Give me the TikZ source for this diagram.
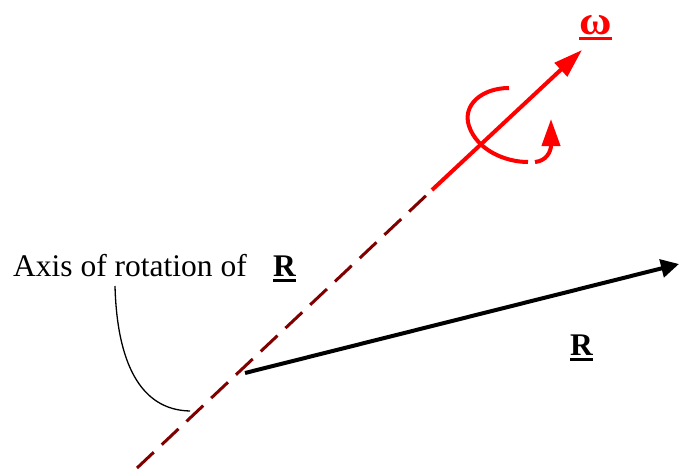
\documentclass[tikz,border=0pt]{standalone}
\usepackage{fontspec}
\usepackage{graphicx}
\setmainfont{Liberation Serif}
\usetikzlibrary{arrows.meta}
\definecolor{axisred}{RGB}{128,0,0}
\newcommand\myul[1]{\setbox0\hbox{#1}\rlap{\rule[-6pt]{\wd0}{3pt}}\box0}
\tikzset{
  lbl/.style={inner sep=0pt, anchor=base west, font=\fontsize{31.5}{36}\selectfont},
  axisline/.style={draw=axisred, line width=3pt, dash pattern=on 23pt off 11pt},
  omegavec/.style={draw=red, line width=4pt, -{Triangle[length=29pt,width=18pt]}},
  rotarrow/.style={draw=red, line width=4pt},
  rvec/.style={draw=black, line width=4pt, -{Triangle[length=18pt,width=18pt]}},
  pointer/.style={draw=black, line width=1.3pt}
}
\begin{document}
\begin{tikzpicture}[x=1pt,y=-1pt]
\useasboundingbox (0,0) rectangle (680,472);
% coordinates
\coordinate (axstart) at (137,468);
\coordinate (axmid) at (432,190);
\coordinate (wtip) at (582,50);
\coordinate (rstart) at (245,373);
\coordinate (rtip) at (679,264);
\coordinate (arcA) at (509,88);
\coordinate (arcB) at (528,162);
\coordinate (arcC) at (535,162);
\coordinate (arcTip) at (551,119);
\coordinate (ptrEnd) at (190,411);
% labels
\node[lbl] (axislbl) at (13,276) {Axis of rotation of};
\node[lbl] (axisR) at (273,276) {\myul{\textbf{R}}};
\node[lbl] (rlbl) at (570,355) {\myul{\textbf{R}}};
\node[lbl, font=\fontsize{37}{40}\selectfont\bfseries] (wlbl) at (579,34) {\color{red}\myul{\scalebox{1.2}[1.1]{ω}}};
% axis
\draw[axisline] (axstart) -- (axmid);
\draw[omegavec] (axmid) -- (wtip);
% rotation arrow
\draw[rotarrow] (arcA) .. controls (482,88) and (462,105) .. (469,126) .. controls (477,150) and (505,162) .. (arcB);
\draw[rotarrow, -{Triangle[length=27pt,width=18pt]}] (arcC) .. controls (546,161) and (551,152) .. (arcTip);
% R vector
\draw[rvec] (rstart) -- (rtip);
% pointer curve
\draw[pointer] (115,286) .. controls (117,362) and (140,410) .. (ptrEnd);
\end{tikzpicture}
\end{document}
